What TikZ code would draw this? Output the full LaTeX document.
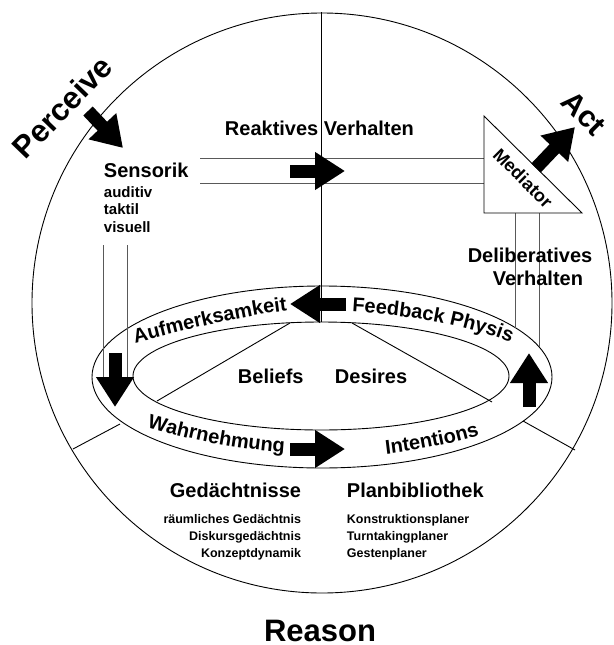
\documentclass[tikz,border=0pt]{standalone}
\usepackage{fontspec}
\setmainfont{Liberation Sans}
\usepackage{tikz}
\usetikzlibrary{arrows.meta}
\usetikzlibrary{decorations.text}

\begin{document}
\begin{tikzpicture}[x=1pt,y=1pt,yscale=-1,
        lbl/.style={font=\bfseries\fontsize{20}{22}\selectfont, inner sep=0.75pt},
        sub/.style={font=\bfseries\fontsize{15}{17}\selectfont, inner sep=0.75pt},
        small/.style={font=\bfseries\fontsize{12.5}{14}\selectfont, inner sep=0.75pt},
        big/.style={font=\bfseries\fontsize{31}{34}\selectfont, inner sep=0.75pt},
        fat/.style={line width=13pt, -{Triangle[length=30pt,width=36pt]}},
        chan/.style={draw=black!65, line width=0.9pt}]
        \useasboundingbox (0,0) rectangle (613,645);

        %Shape: Circle
        \draw [line width=0.9] (322,303) circle [radius=290];
        %Shape: Ellipse (outer ring)
        \draw [line width=0.9] (322,377) ellipse [x radius=230, y radius=91];
        %Shape: Ellipse (inner ring)
        \draw [line width=0.9] (321,376) ellipse [x radius=188, y radius=54];

        %Straight Lines: sector borders
        \draw [line width=0.9] (321,12) -- (321,322);
        \draw [line width=0.9] (73,449) -- (120,424);
        \draw [line width=0.9] (523,421) -- (575,450);
        \draw [line width=0.9] (290,323) -- (157,401);
        \draw [line width=0.9] (352,323) -- (492,402);

        %Straight Lines: channels
        \draw [chan] (200,158) -- (484,158);
        \draw [chan] (200,183) -- (484,183);
        \draw [chan] (103,245) -- (103,377);
        \draw [chan] (127,245) -- (127,377);
        \draw [chan] (515,213) -- (515,327.5);
        \draw [chan] (539,213) -- (539,346.8);

        %Shape: Right Triangle
        \draw [line width=0.9, fill=white] (484,116) -- (484,213) -- (582,213) -- cycle;

        %Arrows
        \draw [fat] (88,111) -- (123,148);
        \draw [fat] (536,168) -- (575,127);
        \draw [fat] (290,171) -- (345,171);
        \draw [fat] (346,304) -- (290,304);
        \draw [fat] (115,353) -- (115,407);
        \draw [fat] (529,407) -- (529,353);
        \draw [fat] (290,449) -- (345,449);

        %Curved Text
        \path [decorate, decoration={text along path, text={|\bfseries\fontsize{20}{22}\selectfont|Aufmerksamkeit}}] (135,343) .. controls (190,329) and (245,315) .. (292,310);
        \path [decorate, decoration={text along path, text={|\bfseries\fontsize{20}{22}\selectfont|Feedback Physis}}] (352,312) .. controls (420,316) and (475,327) .. (516,345);
        \path [decorate, decoration={text along path, text={|\bfseries\fontsize{20}{22}\selectfont|Wahrnehmung}}] (147,427) .. controls (190,440) and (240,450) .. (292,453);
        \path [decorate, decoration={text along path, text={|\bfseries\fontsize{20}{22}\selectfont|Intentions}}] (386,454) .. controls (420,450) and (455,443) .. (490,432);

        % Text Node
        \draw (62,107) node [big, rotate=46] (perc) {Perceive};
        % Text Node
        \draw (584,113) node [big, font=\bfseries\fontsize{30}{33}\selectfont, rotate=-45] (act) {Act};
        % Text Node
        \draw (320,641) node [big, anchor=base] (reas) {Reason};
        % Text Node
        \draw (523,178) node [lbl, font=\bfseries\fontsize{18}{20}\selectfont, rotate=-45] (med) {Mediator};
        % Text Node
        \draw (224,135) node [lbl, anchor=base west] (reak) {Reaktives Verhalten};
        % Text Node
        \draw (103,177) node [lbl, anchor=base west] (sens) {Sensorik};
        \draw (103,197) node [sub, anchor=base west] (aud) {auditiv};
        \draw (103,214.5) node [sub, anchor=base west] (takt) {taktil};
        \draw (103,232) node [sub, anchor=base west] (vis) {visuell};
        % Text Node
        \draw (530,262) node [lbl, anchor=base] (delib) {Deliberatives};
        \draw (538,285) node [lbl, anchor=base] (verh) {Verhalten};
        % Text Node
        \draw (237,383) node [lbl, anchor=base west] (bel) {Beliefs};
        \draw (334,383) node [lbl, anchor=base west] (des) {Desires};
        % Text Node
        \draw (302,497) node [lbl, anchor=base east] (ged) {Gedächtnisse};
        \draw (302,523) node [small, anchor=base east] (raum) {räumliches Gedächtnis};
        \draw (302,540) node [small, anchor=base east] (disk) {Diskursgedächtnis};
        \draw (302,557) node [small, anchor=base east] (konz) {Konzeptdynamik};
        % Text Node
        \draw (346,497) node [lbl, anchor=base west] (plan) {Planbibliothek};
        \draw (346,523) node [small, anchor=base west] (konst) {Konstruktionsplaner};
        \draw (346,540) node [small, anchor=base west] (turn) {Turntakingplaner};
        \draw (346,557) node [small, anchor=base west] (gest) {Gestenplaner};

\end{tikzpicture}
\end{document}
